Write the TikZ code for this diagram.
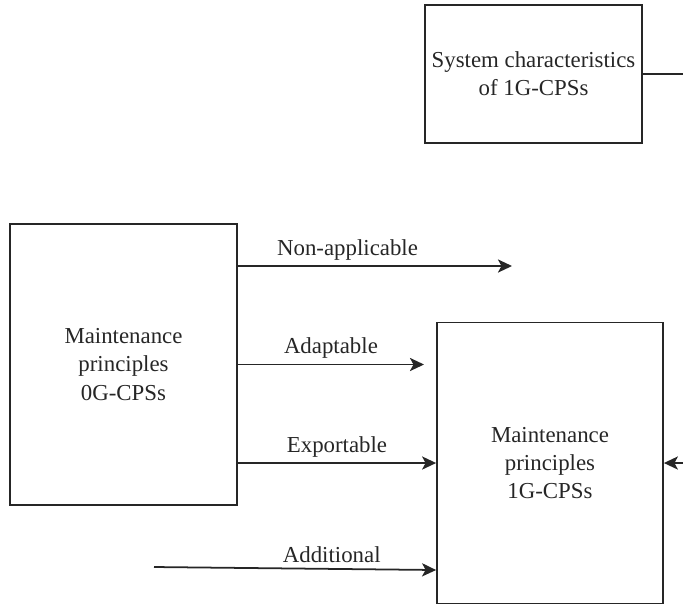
\documentclass[tikz,border=0pt]{standalone}
\usepackage{fontspec}
\setmainfont{Liberation Serif}
\usepackage{tikz}
\usetikzlibrary{arrows.meta,positioning,calc}
\tikzset{
  box/.style={draw=black!85,line width=1pt,minimum width=4.5cm,minimum height=5.62cm,
              font=\fontsize{13}{16}\selectfont,align=center,text=black!85,inner sep=0pt},
  arr/.style={-{Stealth[length=8pt,width=7.5pt,inset=2pt]},line width=1pt,draw=black!85},
  lbl/.style={above,font=\fontsize{13}{16}\selectfont,text=black!85,inner sep=3pt},
}

\begin{document}
\begin{tikzpicture}
  \useasboundingbox (0,0) rectangle (13.66,-12.08);
  %% Boxes
  \node[box,minimum width=4.34cm,minimum height=2.76cm] (sys) at (10.67,-1.48)
    {System characteristics\\of 1G-CPSs};
  \node[box,minimum width=4.54cm] (mp0) at (2.47,-7.29)
    {Maintenance\\principles\\ 0G-CPSs};
  \node[box,minimum width=4.52cm] (mp1) at (11.0,-9.26)
    {Maintenance\\principles\\1G-CPSs};

  %% Free ends
  \coordinate (na)  at (10.24,-5.32);
  \coordinate (ad)  at (8.48,-7.29);
  \coordinate (src) at (3.08,-11.34);
  \coordinate (out) at (13.70,-1.48);
  \coordinate (in)  at (13.70,-9.26);

  %% Connectors
  \draw[arr] (mp0.east |- na) -- node[lbl,pos=0.40] {Non-applicable} (na);
  \draw[arr] (mp0.east) -- node[lbl] {Adaptable} (ad);
  \draw[arr] (mp0.east |- mp1.west) -- node[lbl] {Exportable} (mp1.west);
  \draw[arr] (src) -- node[lbl,pos=0.63] {Additional} (mp1.west |- 0,-11.40);
  \draw[line width=1pt,draw=black!85] (sys.east) -- (out);
  \draw[arr] (in) -- (mp1.east);
\end{tikzpicture}
\end{document}
